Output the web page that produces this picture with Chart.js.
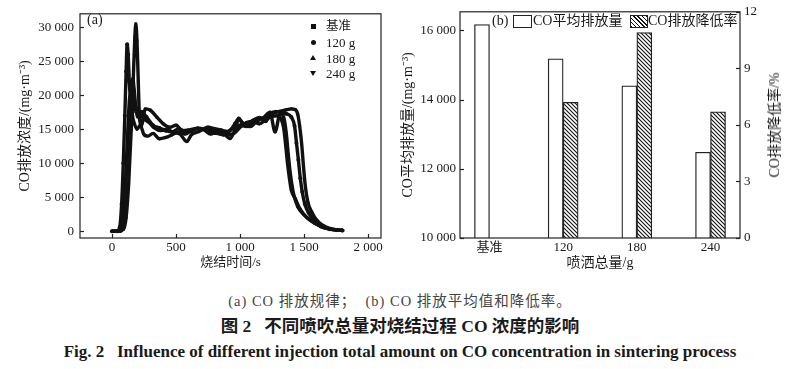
<!DOCTYPE html>
<html>
<head>
<meta charset="utf-8">
<script src="https://cdn.jsdelivr.net/npm/chart.js@4.4.0/dist/chart.umd.min.js"></script>
<style>
  body { margin: 0; background: #fff; }
  #wrap { position: relative; width: 800px; height: 369px; background: #fff; overflow: hidden;
          font-family: "Liberation Serif", "Noto Sans CJK SC", serif; color: #1a1a1a; }
  #wrap canvas { position: absolute; top: 0; }
  .t { position: absolute; white-space: nowrap; line-height: 1; }
  .cap { position: absolute; left: 0; width: 800px; text-align: center; white-space: nowrap; line-height: 1; }
  .mk { position: absolute; background: #111; }
  .tri { position: absolute; width: 0; height: 0; border-left: 3px solid transparent; border-right: 3px solid transparent; }
</style>
</head>
<body>
<div id="wrap">
  <canvas id="chartA" width="400" height="280" style="left:0"></canvas>
  <canvas id="chartB" width="400" height="280" style="left:400px"></canvas>

  <!-- panel (a) label + legend -->
  <div class="t" style="left:87px;top:13px;font-size:14px">(a)</div>
  <div class="mk" style="left:311px;top:24px;width:5px;height:5px"></div>
  <div class="mk" style="left:311px;top:40px;width:5px;height:5px;border-radius:50%"></div>
  <div class="tri" style="left:310px;top:55px;border-bottom:5px solid #111"></div>
  <div class="tri" style="left:310px;top:71px;border-top:5px solid #111"></div>
  <div class="t" style="left:326px;top:20px;font-size:12.5px">基准</div>
  <div class="t" style="left:326px;top:36px;font-size:13px">120 g</div>
  <div class="t" style="left:326px;top:52px;font-size:13px">180 g</div>
  <div class="t" style="left:326px;top:67px;font-size:13px">240 g</div>

  <!-- panel (b) label + legend -->
  <div class="t" style="left:492px;top:14px;font-size:14px">(b)</div>
  <div style="position:absolute;left:513px;top:15px;width:17px;height:11px;border:1.3px solid #222;background:#fff"></div>
  <div class="t" style="left:533px;top:14px;font-size:14px">CO平均排放量</div>
  <div style="position:absolute;left:630px;top:15px;width:16px;height:11px;border:1.3px solid #222;background:repeating-linear-gradient(45deg,#111 0 1px,#fff 1px 3px)"></div>
  <div class="t" style="left:648px;top:14px;font-size:14px">CO排放降低率</div>
  <div class="t" style="left:775px;top:125px;font-size:14px;transform:translate(-50%,-50%) rotate(-90deg)">CO排放降低率/%</div>

  <!-- captions -->
  <div class="cap" style="top:294px;font-size:14.5px;letter-spacing:1px;color:#444">(a) CO 排放规律；&nbsp;&nbsp;(b) CO 排放平均值和降低率。</div>
  <div class="cap" style="top:318px;font-size:17.5px;font-weight:bold">图 2&nbsp;&nbsp;&nbsp;不同喷吹总量对烧结过程 CO 浓度的影响</div>
  <div class="cap" style="top:343px;font-size:17px;font-weight:bold">Fig. 2&nbsp;&nbsp;&nbsp;Influence of different injection total amount on CO concentration in sintering process</div>
</div>

<script>
// ---- panel (a): CO concentration vs sintering time ----
const seriesNames = ['基准', '120 g', '180 g', '240 g'];

const baseT = [0,50,90,110,130,150,165,178,186,195,205,215,230,260,300,350,400,450,500,550,600,650,700,750,800,850,900,950,1000,1050,1100,1150,1200,1250,1300,1350,1400,1430,1450,1465,1480,1495,1510,1530,1560,1600,1650,1700,1750,1800];
const baseV = [0,0,300,2000,7000,15000,22000,28500,30500,28000,22000,16500,15600,18000,17800,16800,15800,15300,15600,14800,14900,15100,15000,15300,15100,14900,14700,15200,15600,15400,15900,16500,16800,17300,17600,17800,18000,17900,17200,15500,13000,9500,6500,4200,2800,1600,800,400,200,100];

const t120 = [0,40,60,75,88,100,110,118,126,135,145,160,180,200,230,270,320,370,420,470,520,570,620,670,720,770,820,870,920,960,990,1020,1060,1100,1150,1200,1240,1280,1320,1360,1400,1425,1440,1455,1470,1485,1505,1535,1575,1630,1700,1800];
const v120 = [0,0,600,4000,10000,17000,23500,27500,26000,22000,19000,17500,18500,17700,17600,16800,15600,15200,14800,14600,15100,14700,14800,15100,15000,14500,14400,14200,14800,15800,16600,15900,15600,16300,16700,16200,17400,17600,17500,17300,16800,15500,13000,10500,7800,5800,4000,2700,1600,700,300,100];

const t180 = [0,60,80,95,110,125,140,152,162,172,185,200,220,250,290,330,380,430,480,530,583,620,670,720,770,820,870,922,960,990,1030,1080,1130,1180,1234,1273,1312,1340,1360,1375,1390,1405,1420,1450,1500,1550,1620,1700,1800];
const v180 = [0,0,500,3000,8000,13500,18500,21500,22500,21000,18500,16800,17200,16500,16000,15200,14800,15000,14500,14300,13200,14200,14600,15000,14800,14900,14400,13650,15000,16500,15600,15400,16200,16700,17500,14600,17300,16800,14500,11500,8800,6800,5300,3600,2400,1600,800,350,150];

const t240 = [0,60,75,90,105,118,130,140,150,160,175,195,220,250,280,320,370,420,470,520,570,620,670,720,770,820,870,920,960,1000,1050,1100,1150,1200,1250,1290,1320,1340,1355,1370,1385,1400,1430,1470,1520,1580,1650,1720,1800];
const v240 = [0,0,400,2500,7000,12500,17500,20000,19200,17000,15800,15000,15600,14200,14000,14400,13600,13800,14200,14600,14300,14800,15200,14900,14300,14700,14600,14200,14500,15300,16000,16200,15800,16400,16900,17000,16500,15200,12800,10000,7800,6000,4800,3200,2000,1200,600,250,120];

const xTicksA = [0, 500, 1000, 1500, 2000];
const yTicksA = [0, 5000, 10000, 15000, 20000, 25000, 30000];

// ---- panel (b): mean CO and reduction rate ----
const categories = ['基准', '120', '180', '240'];
const avgCO = [16170, 15180, 14400, 12480];
const reduction = [null, 7.2, 10.9, 6.7];
const yTicksB = [10000, 12000, 14000, 16000];
const y2TicksB = [0, 3, 6, 9, 12];

const serif = '"Liberation Serif", "Noto Sans CJK SC", serif';
const ink = '#1a1a1a';

function fmt(v) {
  return String(v).replace(/\B(?=(\d{3})+(?!\d))/g, ' ');
}
function fixTicks(list) {
  return function (scale) { scale.ticks = list.map(v => ({ value: v })); };
}

// box around the plot area plus short inward tick marks
const framePlugin = {
  id: 'frame',
  afterDraw(chart, args, opts) {
    const ctx = chart.ctx, a = chart.chartArea;
    ctx.save();
    ctx.strokeStyle = '#222';
    ctx.lineWidth = 1.2;
    ctx.strokeRect(a.left, a.top, a.right - a.left, a.bottom - a.top);
    (opts.ticks || []).forEach(id => {
      const s = chart.scales[id];
      s.ticks.forEach(t => {
        const p = Math.round(s.getPixelForValue(t.value)) + 0.5;
        ctx.beginPath();
        if (s.position === 'bottom') { ctx.moveTo(p, a.bottom); ctx.lineTo(p, a.bottom - 4); }
        else if (s.position === 'left') { ctx.moveTo(a.left, p); ctx.lineTo(a.left + 4, p); }
        else { ctx.moveTo(a.right, p); ctx.lineTo(a.right - 4, p); }
        ctx.stroke();
      });
    });
    ctx.restore();
  }
};

const markers = ['rect', 'circle', 'triangle', 'triangle'];
const rotations = [0, 0, 0, 180];
const timesA = [baseT, t120, t180, t240];
const valuesA = [baseV, v120, v180, v240];

new Chart(document.getElementById('chartA'), {
  type: 'line',
  data: {
    datasets: seriesNames.map((name, i) => ({
      label: name,
      data: timesA[i].map((t, j) => ({ x: t, y: valuesA[i][j] })),
      borderColor: '#111',
      backgroundColor: '#111',
      borderWidth: 3.4,
      pointStyle: markers[i],
      pointRotation: rotations[i],
      pointRadius: 2,
      pointBorderWidth: 0,
      cubicInterpolationMode: 'monotone',
      fill: false
    }))
  },
  options: {
    responsive: false,
    animation: false,
    devicePixelRatio: 1,
    layout: { padding: { left: 0, right: 19, top: 10, bottom: 0 } },
    plugins: { legend: { display: false }, tooltip: { enabled: false }, frame: { ticks: ['x', 'y'] } },
    scales: {
      x: {
        type: 'linear', min: -250, max: 2100,
        afterBuildTicks: fixTicks(xTicksA),
        afterFit: s => { s.height = 42; },
        grid: { display: false, drawTicks: false },
        border: { display: false },
        ticks: { font: { family: serif, size: 13 }, color: ink, padding: 2, maxRotation: 0, autoSkip: false, callback: v => fmt(v) },
        title: { display: true, text: '烧结时间/s', color: ink, font: { family: serif, size: 13 }, padding: { top: 0, bottom: 10 } }
      },
      y: {
        type: 'linear', min: -1000, max: 32000,
        afterBuildTicks: fixTicks(yTicksA),
        afterFit: s => { s.width = 80; },
        grid: { display: false, drawTicks: false },
        border: { display: false },
        ticks: { font: { family: serif, size: 13 }, color: ink, padding: 6, callback: v => fmt(v) },
        title: { display: true, text: 'CO排放浓度/(mg·m⁻³)', color: ink, font: { family: serif, size: 14 }, padding: { top: 17, bottom: 0 } }
      }
    }
  },
  plugins: [framePlugin]
});

// hatched fill for the reduction-rate bars
function hatch() {
  const c = document.createElement('canvas');
  c.width = 4; c.height = 4;
  const g = c.getContext('2d');
  g.fillStyle = '#fff';
  g.fillRect(0, 0, 4, 4);
  g.strokeStyle = '#111';
  g.lineWidth = 1.1;
  g.beginPath();
  g.moveTo(-1, -1); g.lineTo(5, 5);
  g.moveTo(-1, 3); g.lineTo(1, 5);
  g.moveTo(3, -1); g.lineTo(5, 1);
  g.stroke();
  return g.createPattern(c, 'repeat');
}

new Chart(document.getElementById('chartB'), {
  type: 'bar',
  data: {
    datasets: [
      {
        label: 'CO平均排放量',
        data: avgCO.map((v, i) => ({ x: i, y: v })),
        backgroundColor: '#fff', borderColor: '#222', borderWidth: 1.3,
        barThickness: 15, yAxisID: 'y'
      },
      {
        label: 'CO排放降低率',
        data: reduction.map((v, i) => ({ x: i, y: v })),
        backgroundColor: hatch(), borderColor: '#222', borderWidth: 1.3,
        barThickness: 15, yAxisID: 'y2'
      }
    ]
  },
  options: {
    responsive: false,
    animation: false,
    devicePixelRatio: 1,
    layout: { padding: { left: 0, right: 0, top: 10, bottom: 0 } },
    plugins: { legend: { display: false }, tooltip: { enabled: false }, frame: { ticks: ['y', 'y2'] } },
    scales: {
      x: {
        type: 'linear', min: -0.4, max: 3.4, offset: false,
        afterBuildTicks: fixTicks([0, 1, 2, 3]),
        afterFit: s => { s.height = 42; },
        grid: { display: false, drawTicks: false, offset: false },
        border: { display: false },
        ticks: { font: { family: serif, size: 13 }, color: ink, padding: 2, maxRotation: 0, autoSkip: false, callback: v => categories[v] },
        title: { display: true, text: '喷洒总量/g', color: ink, font: { family: serif, size: 14 }, padding: { top: 0, bottom: 8 } }
      },
      y: {
        position: 'left', min: 10000, max: 16540,
        afterBuildTicks: fixTicks(yTicksB),
        afterFit: s => { s.width = 60; },
        grid: { display: false, drawTicks: false },
        border: { display: false },
        ticks: { font: { family: serif, size: 13 }, color: ink, padding: 4, callback: v => fmt(v) },
        title: { display: true, text: 'CO平均排放量/(mg·m⁻³)', color: ink, font: { family: serif, size: 14 }, padding: { top: 0, bottom: 0 } }
      },
      y2: {
        position: 'right', min: 0, max: 12,
        afterBuildTicks: fixTicks(y2TicksB),
        afterFit: s => { s.width = 60; },
        grid: { display: false, drawTicks: false },
        border: { display: false },
        ticks: { font: { family: serif, size: 13 }, color: ink, padding: 4 }
      }
    }
  },
  plugins: [framePlugin]
});
</script>
</body>
</html>
